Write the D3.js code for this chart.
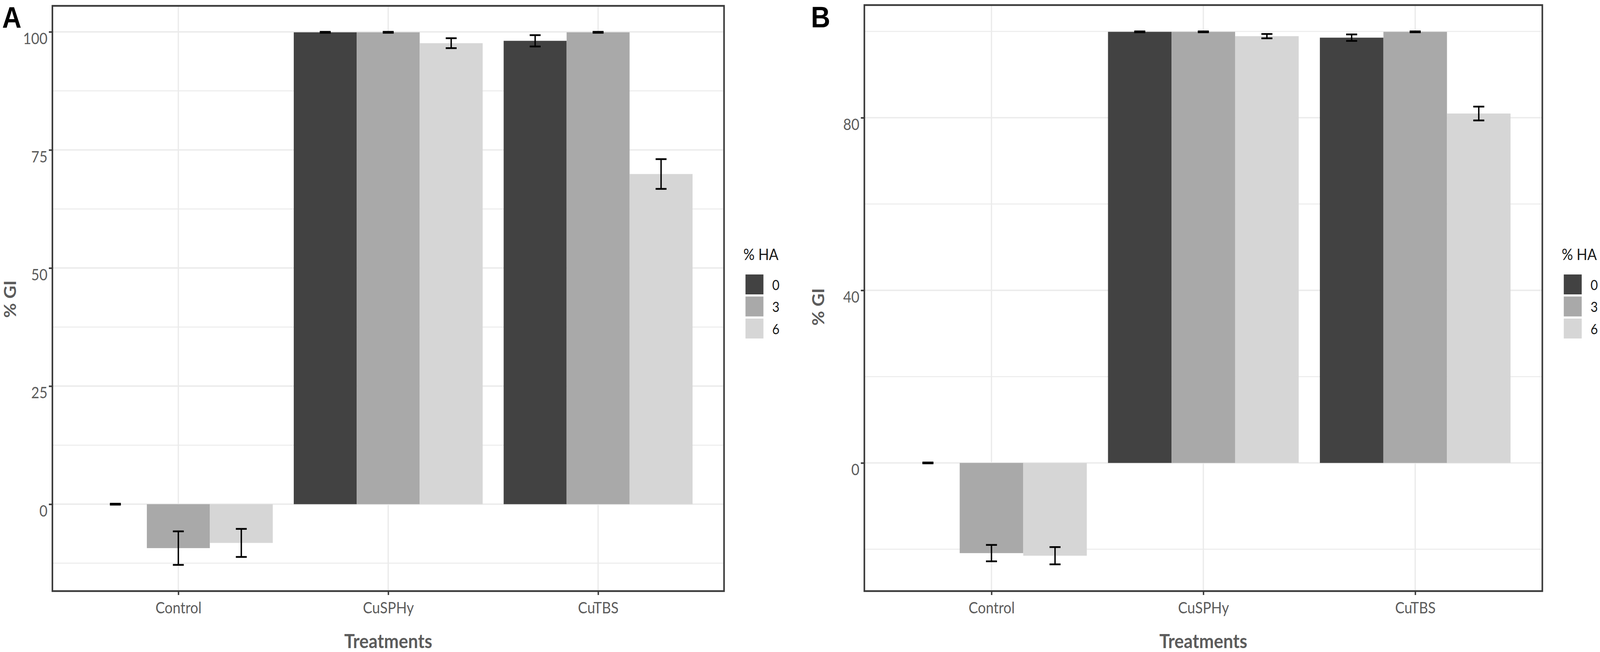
<!DOCTYPE html>
<html>
<head>
<meta charset="utf-8">
<script src="https://cdn.jsdelivr.net/npm/d3@7"></script>
<style>
  html, body { margin: 0; padding: 0; background: #ffffff; overflow: hidden; width: 100%; height: 100%; }
  svg { display: block; width: 100vw; height: 100vh; }
</style>
</head>
<body>
<svg id="chart" viewBox="0 0 4550 1670" preserveAspectRatio="none"></svg>
<script>
// ---------------- DATA ----------------
const categories = ["Control", "CuSPHy", "CuTBS"];
const haLevels = ["0", "3", "6"];

// Panel A: mean % GI per HA level (order follows categories)
const A_mean_HA0 = [0.0, 99.9, 98.1];
const A_mean_HA3 = [-9.3, 99.9, 99.9];
const A_mean_HA6 = [-8.2, 97.6, 69.9];
// Panel A: error (half-length of error bar)
const A_err_HA0 = [0.1, 0.1, 1.2];
const A_err_HA3 = [3.55, 0.1, 0.1];
const A_err_HA6 = [2.97, 1.05, 3.15];

// Panel B
const B_mean_HA0 = [0.0, 99.9, 98.55];
const B_mean_HA3 = [-20.9, 99.9, 99.9];
const B_mean_HA6 = [-21.5, 98.9, 80.97];
const B_err_HA0 = [0.1, 0.1, 0.75];
const B_err_HA3 = [1.9, 0.1, 0.1];
const B_err_HA6 = [2.0, 0.5, 1.6];

// Tick labels
const A_ticks = [0, 25, 50, 75, 100];
const A_minorTicks = [-12.5, 12.5, 37.5, 62.5, 87.5];
const B_ticks = [0, 40, 80];
const B_minorTicks = [-20, 20, 60, 100];
const A_domain = [-18.4, 105.5];
const B_domain = [-29.7, 106.1];

const yTitle = "% GI";
const xTitle = "Treatments";
const legendTitle = "% HA";

// ---------------- STYLE ----------------
const fills = ["#424242", "#a9a9a9", "#d6d6d6"];
const FONT = "Lato, 'Open Sans', 'DejaVu Sans', sans-serif";
const textGrey = "#5c5c5c";
const gridCol = "#ebebeb";
const borderCol = "#3a3a3a";

const svg = d3.select("#chart");

function buildRows(means, errs) {
  const rows = [];
  categories.forEach((c, i) => {
    haLevels.forEach((h, j) => {
      rows.push({ cat: c, ha: h, mean: means[j][i], err: errs[j][i] });
    });
  });
  return rows;
}

function panel(opts) {
  const { x0, x1, yTop, yBot, domain, ticks, minor, rows, letter, letterX, letterY,
          yTitleX, yTitleY, legendX } = opts;
  const g = svg.append("g");

  const x = d3.scalePoint().domain(categories).range([x0, x1]).padding(0.6);
  const step = x.step();
  const sub = d3.scaleBand().domain(haLevels).range([-0.45 * step, 0.45 * step]).padding(0);
  const y = d3.scaleLinear().domain(domain).range([yBot, yTop]);

  // grid
  g.append("g").selectAll("line").data(minor).join("line")
    .attr("x1", x0).attr("x2", x1)
    .attr("y1", d => y(d)).attr("y2", d => y(d))
    .attr("stroke", gridCol).attr("stroke-width", 2.5);
  g.append("g").selectAll("line").data(ticks).join("line")
    .attr("x1", x0).attr("x2", x1)
    .attr("y1", d => y(d)).attr("y2", d => y(d))
    .attr("stroke", gridCol).attr("stroke-width", 3.7);
  g.append("g").selectAll("line").data(categories).join("line")
    .attr("x1", d => x(d)).attr("x2", d => x(d))
    .attr("y1", yTop).attr("y2", yBot)
    .attr("stroke", gridCol).attr("stroke-width", 3.7);

  // bars
  g.append("g").selectAll("rect").data(rows).join("rect")
    .attr("x", d => x(d.cat) + sub(d.ha))
    .attr("width", sub.bandwidth())
    .attr("y", d => Math.min(y(d.mean), y(0)))
    .attr("height", d => Math.abs(y(d.mean) - y(0)))
    .attr("fill", d => fills[haLevels.indexOf(d.ha)]);

  // error bars
  const capHalf = 0.026 * step;
  const eb = g.append("g").selectAll("g").data(rows).join("g")
    .attr("transform", d => `translate(${x(d.cat) + sub(d.ha) + sub.bandwidth() / 2},0)`);
  eb.append("line")
    .attr("x1", 0).attr("x2", 0)
    .attr("y1", d => y(d.mean + d.err)).attr("y2", d => y(d.mean - d.err))
    .attr("stroke", "#000").attr("stroke-width", 4);
  eb.append("line")
    .attr("x1", -capHalf).attr("x2", capHalf)
    .attr("y1", d => y(d.mean + d.err)).attr("y2", d => y(d.mean + d.err))
    .attr("stroke", "#000").attr("stroke-width", 4.5);
  eb.append("line")
    .attr("x1", -capHalf).attr("x2", capHalf)
    .attr("y1", d => y(d.mean - d.err)).attr("y2", d => y(d.mean - d.err))
    .attr("stroke", "#000").attr("stroke-width", 4.5);

  // border
  g.append("rect")
    .attr("x", x0).attr("y", yTop)
    .attr("width", x1 - x0).attr("height", yBot - yTop)
    .attr("fill", "none").attr("stroke", borderCol).attr("stroke-width", 4.5);

  // y axis
  const ya = g.append("g").attr("transform", `translate(${x0},0)`)
    .call(d3.axisLeft(y).tickValues(ticks).tickSize(10).tickPadding(4).tickFormat(d3.format("d")));
  ya.select(".domain").remove();
  ya.selectAll(".tick line").attr("stroke", borderCol).attr("stroke-width", 4);
  ya.selectAll(".tick text")
    .attr("dy", 31)
    .attr("font-family", FONT).attr("font-size", 40).attr("fill", textGrey);

  // x axis
  const xa = g.append("g").attr("transform", `translate(0,${yBot})`)
    .call(d3.axisBottom(x).tickSize(10));
  xa.select(".domain").remove();
  xa.selectAll(".tick line").attr("stroke", borderCol).attr("stroke-width", 4);
  xa.selectAll(".tick text")
    .attr("y", 0).attr("dy", 57)
    .attr("font-family", FONT).attr("font-size", 40).attr("fill", textGrey);

  // titles
  g.append("text")
    .attr("x", (x0 + x1) / 2).attr("y", 1660)
    .attr("text-anchor", "middle")
    .attr("font-family", FONT).attr("font-weight", "bold").attr("font-size", 50)
    .attr("fill", textGrey).text(xTitle);
  g.append("text")
    .attr("transform", `translate(${yTitleX},${yTitleY}) rotate(-90)`)
    .attr("text-anchor", "middle")
    .attr("font-family", FONT).attr("font-weight", "bold").attr("font-size", 46)
    .attr("fill", textGrey).text(yTitle);

  // panel letter
  g.append("text")
    .attr("x", letterX).attr("y", letterY)
    .attr("font-family", "'Liberation Sans', Arial, sans-serif").attr("font-weight", "bold")
    .attr("font-size", 76).attr("fill", "#000").text(letter);

  // legend
  const lg = g.append("g").attr("transform", `translate(${legendX},0)`);
  lg.append("text")
    .attr("x", -6).attr("y", 666)
    .attr("font-family", FONT).attr("font-size", 40).attr("fill", "#1a1a1a")
    .text(legendTitle);
  const keys = lg.selectAll("g.key").data(haLevels).join("g")
    .attr("class", "key")
    .attr("transform", (d, i) => `translate(0,${703 + i * 56.5})`);
  keys.append("rect")
    .attr("width", 51).attr("height", 51)
    .attr("fill", (d, i) => fills[i]);
  keys.append("text")
    .attr("x", 76).attr("y", 40)
    .attr("font-family", FONT).attr("font-size", 36).attr("fill", "#1a1a1a")
    .text(d => d);
}

const rowsA = buildRows([A_mean_HA0, A_mean_HA3, A_mean_HA6], [A_err_HA0, A_err_HA3, A_err_HA6]);
const rowsB = buildRows([B_mean_HA0, B_mean_HA3, B_mean_HA6], [B_err_HA0, B_err_HA3, B_err_HA6]);

panel({ x0: 149, x1: 2059, yTop: 15, yBot: 1514, domain: A_domain, ticks: A_ticks,
        minor: A_minorTicks, rows: rowsA, letter: "A", letterX: 6, letterY: 71,
        yTitleX: 45, yTitleY: 766, legendX: 2120 });
panel({ x0: 2458, x1: 4386, yTop: 13, yBot: 1514, domain: B_domain, ticks: B_ticks,
        minor: B_minorTicks, rows: rowsB, letter: "B", letterX: 2306, letterY: 70,
        yTitleX: 2344, yTitleY: 786, legendX: 4447 });
</script>
</body>
</html>
